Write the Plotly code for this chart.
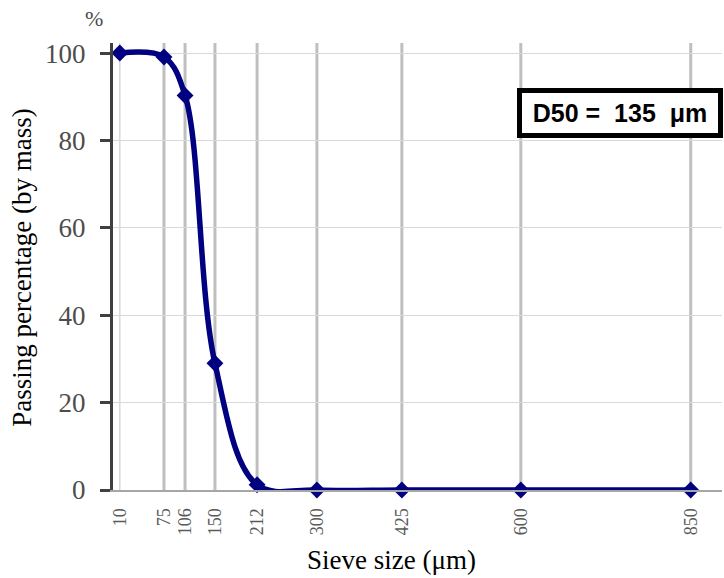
import plotly.graph_objects as go

sieve_um = [10, 75, 106, 150, 212, 300, 425, 600, 850]
passing_pct = [100, 99.1, 90.3, 29.0, 1.2, 0, 0, 0, 0]
tick_labels = ["10", "75", "106", "150", "212", "300", "425", "600", "850"]
y_ticks = [0, 20, 40, 60, 80, 100]

SERIF = "Liberation Serif, Times New Roman, serif"

fig = go.Figure()

# vertical grid lines at sieve sizes
for i, v in enumerate(sieve_um):
    if i == 0:
        fig.add_vline(x=v, line=dict(color="#d9d9d9", width=1.5), layer="below")
    else:
        fig.add_vline(x=v, line=dict(color="#bfbfbf", width=3), layer="below")

fig.add_trace(go.Scatter(
    x=sieve_um, y=passing_pct, mode="lines+markers",
    line=dict(color="#000080", width=5.5, shape="spline", smoothing=1),
    marker=dict(symbol="diamond", size=13, color="#000080"),
    cliponaxis=False, showlegend=False,
))

fig.update_layout(
    width=724, height=578,
    margin=dict(l=113, r=2, t=43, b=88),
    paper_bgcolor="white", plot_bgcolor="white",
    showlegend=False,
    xaxis=dict(
        range=[0, 896], tickmode="array", tickvals=sieve_um, ticktext=tick_labels,
        tickangle=-90, showgrid=False, zeroline=False,
        showline=True, linecolor="#a6a6a6", linewidth=2,
        ticks="", ticklabelstandoff=9,
        tickfont=dict(family=SERIF, size=18, color="#595959"),
    ),
    yaxis=dict(
        range=[0, 102.3], tickmode="array", tickvals=y_ticks,
        showgrid=True, gridcolor="#d9d9d9", gridwidth=1, zeroline=False,
        showline=True, linecolor="#404040", linewidth=3,
        ticks="outside", ticklen=10, tickwidth=3, tickcolor="#404040",
        ticklabelstandoff=9,
        tickfont=dict(family=SERIF, size=27, color="#4d4d4d"),
    ),
    annotations=[
        dict(text="Passing percentage (by mass)", xref="paper", yref="paper",
             x=-0.1494, y=0.497, textangle=-90, showarrow=False,
             xanchor="center", yanchor="middle",
             font=dict(family=SERIF, size=27, color="black")),
        dict(text="Sieve size (\u03bcm)", xref="paper", yref="paper",
             x=0.4565, y=-0.157, showarrow=False,
             xanchor="center", yanchor="middle",
             font=dict(family=SERIF, size=27, color="black")),
        dict(text="%", xref="paper", yref="paper",
             x=-0.032, y=1.055, showarrow=False,
             xanchor="center", yanchor="middle",
             font=dict(family=SERIF, size=22, color="#4d4d4d")),
        dict(text="<b>D50 =\u00a0\u00a0135\u00a0\u00a0\u03bcm</b>", xref="paper", yref="paper",
             x=0.8325, y=0.8427, showarrow=False,
             xanchor="center", yanchor="middle",
             width=192, height=36, borderpad=2,
             bordercolor="black", borderwidth=5, bgcolor="white",
             font=dict(family="Liberation Sans, Arial, sans-serif",
                       size=25, color="black")),
    ],
)

fig.write_html("out.html", config={"displayModeBar": False},
               post_script="document.body.style.margin='0';")
